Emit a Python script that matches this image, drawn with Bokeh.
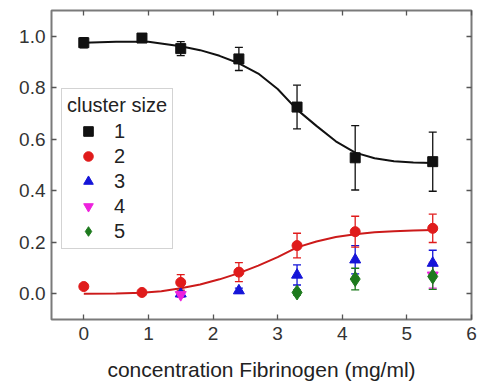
from bokeh.plotting import figure
from bokeh.models import (Range1d, LinearAxis, FixedTicker, Whisker, TeeHead,
                          ColumnDataSource, Legend, LegendItem, NumeralTickFormatter)
from bokeh.embed import file_html
from bokeh.resources import INLINE

# ---- data ----
conc = [0, 0.9, 1.5, 2.4, 3.3, 4.2, 5.4]
size1 = [0.975, 0.993, 0.952, 0.912, 0.725, 0.528, 0.513]
err1 = [0.02, 0.01, 0.027, 0.045, 0.085, 0.125, 0.115]
size2 = [0.028, 0.005, 0.044, 0.084, 0.187, 0.241, 0.254]
err2 = [0.01, 0.006, 0.03, 0.037, 0.048, 0.06, 0.055]
conc3 = [1.5, 2.4, 3.3, 4.2, 5.4]
size3 = [0.0, 0.012, 0.073, 0.132, 0.119]
err3 = [0.01, 0.01, 0.039, 0.055, 0.05]
conc4 = [1.5, 5.4]
size4 = [-0.004, 0.072]
err4 = [0.01, 0.05]
conc5 = [3.3, 4.2, 5.4]
size5 = [0.005, 0.057, 0.067]
err5 = [0.01, 0.042, 0.05]

fit1_x = [0, 0.5, 1.0, 1.5, 1.8, 2.1, 2.4, 2.7, 3.0, 3.3, 3.6, 3.9, 4.2, 4.5, 4.8, 5.1, 5.4]
fit1_y = [0.975, 0.979, 0.979, 0.961, 0.946, 0.924, 0.895, 0.855, 0.795, 0.715, 0.652, 0.592, 0.548, 0.526, 0.515, 0.510, 0.508]
fit2_x = [0, 0.5, 0.9, 1.2, 1.5, 1.8, 2.1, 2.4, 2.7, 3.0, 3.3, 3.6, 3.9, 4.2, 4.5, 4.8, 5.1, 5.4]
fit2_y = [0.000, 0.001, 0.004, 0.010, 0.021, 0.036, 0.056, 0.080, 0.109, 0.142, 0.180, 0.203, 0.220, 0.231, 0.239, 0.243, 0.246, 0.248]

x_ticks = [0, 1, 2, 3, 4, 5, 6]
y_ticks = [0.0, 0.2, 0.4, 0.6, 0.8, 1.0]
x_label = "concentration Fibrinogen (mg/ml)"
legend_title = "cluster size"
labels = ["1", "2", "3", "4", "5"]
colors = ["#111111", "#e01b1b", "#1515d8", "#ee22dd", "#1d7a1d"]

FONT = "Liberation Sans"

p = figure(width=477, height=383, output_backend="svg", toolbar_location=None,
           x_range=Range1d(-0.5, 6.0), y_range=Range1d(-0.1, 1.1),
           x_axis_location=None, y_axis_location=None,
           min_border_left=51, min_border_right=6, min_border_top=10, min_border_bottom=63)
p.grid.visible = False
p.outline_line_color = "#7a7a7a"
p.outline_line_width = 2
p.background_fill_color = "white"


def style_axis(ax, show_labels):
    ax.axis_line_color = None
    ax.major_tick_in = 5
    ax.major_tick_out = 0
    ax.minor_tick_in = 3
    ax.minor_tick_out = 0
    ax.major_tick_line_color = "#555555"
    ax.minor_tick_line_color = "#555555"
    ax.major_tick_line_width = 1.3
    ax.minor_tick_line_width = 1.0
    if show_labels:
        ax.major_label_text_font = FONT
        ax.major_label_text_font_size = "19px"
        ax.major_label_text_color = "#333333"
        ax.major_label_standoff = 7
    else:
        ax.major_label_text_font_size = "1px"
        ax.major_label_text_color = None
        ax.major_label_standoff = 0


xt = FixedTicker(ticks=x_ticks, num_minor_ticks=2)
yt = FixedTicker(ticks=y_ticks, num_minor_ticks=2)

xb = LinearAxis(ticker=xt, formatter=NumeralTickFormatter(format="0"))
style_axis(xb, True)
xb.axis_label = x_label
xb.axis_label_text_font = FONT
xb.axis_label_text_font_size = "21px"
xb.axis_label_text_font_style = "normal"
xb.axis_label_text_color = "#222222"
xb.axis_label_standoff = 15
p.add_layout(xb, "below")

yl = LinearAxis(ticker=yt, formatter=NumeralTickFormatter(format="0.0"))
style_axis(yl, True)
yl.major_label_standoff = 6
p.add_layout(yl, "left")

xa = LinearAxis(ticker=FixedTicker(ticks=x_ticks, num_minor_ticks=2))
style_axis(xa, False)
p.add_layout(xa, "above")

yr = LinearAxis(ticker=FixedTicker(ticks=y_ticks, num_minor_ticks=2))
style_axis(yr, False)
p.add_layout(yr, "right")

# red fit curve
p.line(fit2_x, fit2_y, line_color="#cc1a1a", line_width=2)

series_all = {
    0: (conc, size1, err1, "square", 10),
    1: (conc, size2, err2, "circle", 10),
    2: (conc3, size3, err3, "triangle", 11),
    3: (conc4, size4, err4, "inverted_triangle", 11),
    4: (conc5, size5, err5, "diamond", 15),
}

renderers = {}
draw_order = [2, 3, 4, 1, 0]
for i in draw_order:
    xs, ys, es, mk, sz = series_all[i]
    src = ColumnDataSource(dict(x=xs, y=ys,
                                lo=[a - b for a, b in zip(ys, es)],
                                hi=[a + b for a, b in zip(ys, es)]))
    w = Whisker(source=src, base="x", lower="lo", upper="hi", dimension="height",
                line_color=colors[i], line_width=1.3,
                upper_head=TeeHead(size=8, line_color=colors[i], line_width=1.3),
                lower_head=TeeHead(size=8, line_color=colors[i], line_width=1.3))
    p.add_layout(w)
    if i == 0:
        p.line(fit1_x, fit1_y, line_color="#111111", line_width=2)
    r = p.scatter("x", "y", source=src, marker=mk, size=sz,
                  fill_color=colors[i], line_color=colors[i])
    renderers[i] = r

items = [LegendItem(label=labels[i], renderers=[renderers[i]]) for i in range(5)]
legend = Legend(items=items, title=legend_title, location=(10, 70),
                border_line_color="#a8a8a8", border_line_width=1,
                background_fill_color="white", background_fill_alpha=1.0,
                padding=5, spacing=1, margin=0,
                glyph_width=42, glyph_height=24, label_height=24,
                label_standoff=5, title_standoff=2,
                label_text_font=FONT, label_text_font_size="20px",
                label_text_color="#222222",
                title_text_font=FONT, title_text_font_size="20px",
                title_text_font_style="normal", title_text_color="#222222")
p.add_layout(legend)

open("out.html", "w").write(file_html(p, INLINE))
